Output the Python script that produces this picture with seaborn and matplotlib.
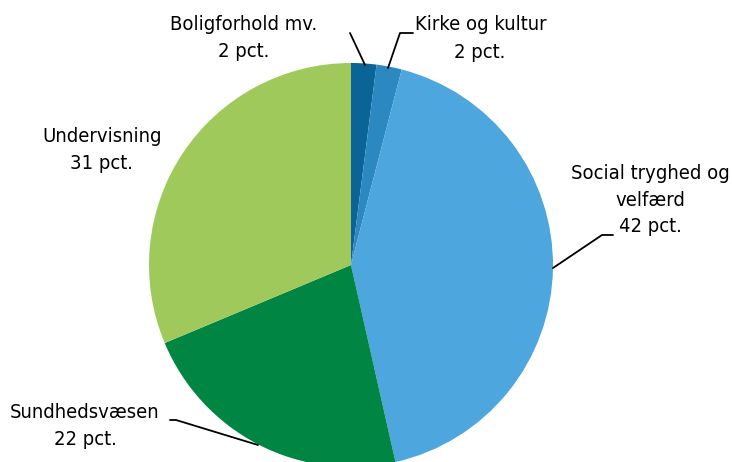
import matplotlib
matplotlib.use("Agg")
import matplotlib.pyplot as plt
import seaborn as sns

# data
categories = ["Boligforhold mv.", "Kirke og kultur", "Social tryghed og\nvelfærd",
              "Sundhedsvæsen", "Undervisning"]
shares = [2, 2, 42, 22, 31]
colors = ["#0a6496", "#2b88c0", "#4da6de", "#008542", "#9fc95a"]

sns.set_style("white")
plt.rcParams["font.family"] = ["DejaVu Sans"]
plt.rcParams["font.stretch"] = "condensed"
plt.rcParams["text.color"] = "black"

fig = plt.figure(figsize=(7.32, 4.62), dpi=100)
ax = fig.add_axes([0, 0, 1, 1])

ax.pie(shares, colors=colors, startangle=90, counterclock=False,
       center=(351, 197), radius=202, frame=True,
       wedgeprops=dict(linewidth=0))
ax.set_xlim(0, 732)
ax.set_ylim(0, 462)
ax.set_aspect("equal")
ax.axis("off")

fs = 14.5
ls = 1.5
lbl = [f"{c}\n{v} pct." for c, v in zip(categories, shares)]

# label placement (pixel coords, y from top) and leader lines
def Y(y):
    return 462 - y

ax.text(244, Y(38), lbl[0], ha="center", va="center", fontsize=fs, linespacing=ls)
ax.plot([350, 365], [Y(33), Y(65)], color="black", lw=1.3)

ax.text(415, Y(25), categories[1], ha="left", va="center", fontsize=fs)
ax.text(480, Y(52), f"{shares[1]} pct.", ha="center", va="center", fontsize=fs)
ax.plot([413, 400, 388], [Y(33), Y(33), Y(68)], color="black", lw=1.3)

ax.text(650, Y(200), lbl[2], ha="center", va="center", fontsize=fs, linespacing=ls)
ax.plot([553, 602, 613], [Y(268), Y(235), Y(235)], color="black", lw=1.3)

ax.text(85, Y(426), lbl[3], ha="center", va="center", fontsize=fs, linespacing=ls)
ax.plot([170, 176, 258], [Y(420), Y(420), Y(445)], color="black", lw=1.3)

ax.text(102, Y(150), lbl[4], ha="center", va="center", fontsize=fs, linespacing=ls)

fig.savefig("out.png", dpi=100)
